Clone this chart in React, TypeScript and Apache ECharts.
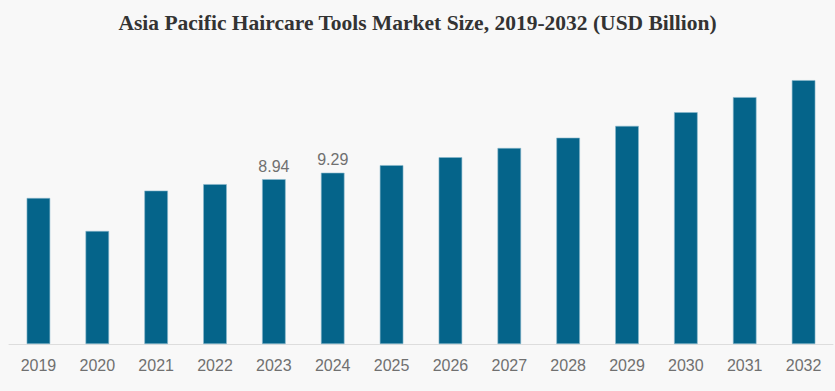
import React, { useEffect, useRef } from "react";
import * as echarts from "echarts";

const categories = ["2019", "2020", "2021", "2022", "2023", "2024", "2025", "2026", "2027", "2028", "2029", "2030", "2031", "2032"];
const values = [7.92, 6.13, 8.32, 8.67, 8.94, 9.29, 9.7, 10.13, 10.63, 11.19, 11.83, 12.57, 13.39, 14.31];
const labelledYears = ["2023", "2024"];
const titleText = "Asia Pacific Haircare Tools Market Size, 2019-2032 (USD Billion)";

export default function App() {
  const ref = useRef<HTMLDivElement>(null);
  useEffect(() => {
    if (!ref.current) return;
    const chart = echarts.init(ref.current, undefined, { renderer: "svg" });
    chart.setOption({
      animation: false,
      backgroundColor: "#f8f8f8",
      title: {
        text: titleText,
        left: "center",
        top: 7,
        textStyle: {
          fontFamily: "Liberation Serif",
          fontWeight: "bold",
          fontSize: 21.5,
          color: "#333333",
        },
      },
      grid: { left: 9, right: 2, top: 49, bottom: 47 },
      xAxis: {
        type: "category",
        data: categories,
        axisLine: { lineStyle: { color: "#dddddd", width: 1 } },
        axisTick: { show: false },
        axisLabel: {
          color: "#707070",
          fontSize: 16,
          fontFamily: "Liberation Sans",
          margin: 13,
        },
      },
      yAxis: {
        type: "value",
        min: 0,
        max: 16,
        show: false,
        splitLine: { show: false },
      },
      series: [
        {
          type: "bar",
          barWidth: "40%",
          data: values.map((v, i) => ({
            value: v,
            label: {
              show: labelledYears.includes(categories[i]),
              position: "top",
              distance: 5,
              color: "#707070",
              fontSize: 16,
              fontFamily: "Liberation Sans",
            },
          })),
          itemStyle: {
            color: "#05648a",
            borderColor: "#8ab8cc",
            borderWidth: 0.6,
          },
        },
      ],
    });
    return () => chart.dispose();
  }, []);
  return <div ref={ref} style={{ width: 835, height: 391, position: "absolute", left: 0, top: 0 }} />;
}
